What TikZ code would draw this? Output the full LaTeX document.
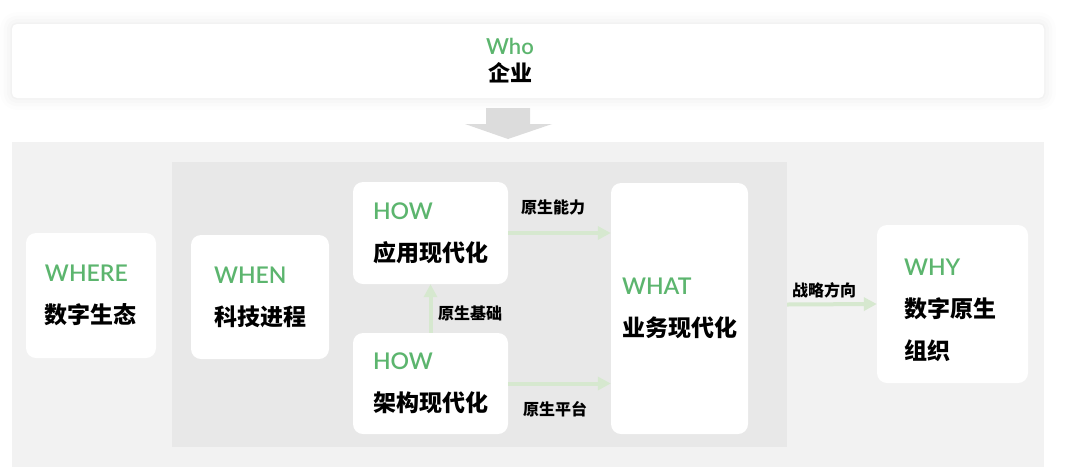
\documentclass[tikz,border=0pt]{standalone}
\usepackage{fontspec}
\setmainfont{Lato}
\newfontfamily\latinvert{Lato Semibold}
\newfontfamily\cjk{Noto Sans CJK SC}
\usetikzlibrary{arrows.meta,shadows.blur}
\definecolor{vert}{RGB}{92,181,110}
\definecolor{fond}{RGB}{242,242,242}
\definecolor{coeur}{RGB}{232,232,232}
\definecolor{liaison}{RGB}{214,232,207}
\definecolor{grosse}{RGB}{220,220,220}
\newcommand{\motvert}[1]{{\latinvert\color{vert}#1}}
\newcommand{\motzh}[1]{{\cjk\bfseries #1}}
\begin{document}
\begin{tikzpicture}  % ------ Entreprise et organisation numérique -------
      [x=1pt,y=-1pt,
       carte/.style={fill=white, rounded corners=10pt, align=left,
         font=\fontsize{23}{42}\selectfont},
       lien/.style={liaison, line width=4pt, -{Triangle[length=13pt,width=13pt]}},
       etiquette/.style={font=\cjk\bfseries\fontsize{16}{18}\selectfont}]

    \useasboundingbox (0,0) rectangle (1080,467);

    % bandeau du haut et grosse flèche
    \node[fill=white, rounded corners=5pt, minimum width=1032pt, minimum height=74pt,
      blur shadow={shadow xshift=0pt, shadow yshift=0pt, shadow blur radius=12pt, shadow opacity=10}]
      (entreprise) at (528,61) {};
    \node[align=center, font=\fontsize{22}{27}\selectfont] (who) at (510,61) {\motvert{Who}\\\motzh{企业}};
    \fill[grosse] (486,108) -- (530,108) -- (530,124) -- (552,124) -- (508,139) -- (465,124) -- (486,124) -- cycle;

    % fonds gris
    \fill[fond] (12,142) rectangle (1044,467);
    \node[fill=coeur, minimum width=615pt, minimum height=285pt] (coeur) at (479.5,304.5) {};

    % cartes
    \node[carte, minimum width=130pt, minimum height=125pt] (where) at (91,295.5) {\motvert{WHERE}\\\motzh{数字生态}};
    \node[carte, minimum width=138pt, minimum height=124pt] (when) at (260,297) {\motvert{WHEN}\\\motzh{科技进程}};
    \node[carte, minimum width=155pt, minimum height=102pt] (howA) at (430.5,233) {\motvert{HOW}\\\motzh{应用现代化}};
    \node[carte, minimum width=155pt, minimum height=101pt] (howB) at (430.5,383.5) {\motvert{HOW}\\\motzh{架构现代化}};
    \node[carte, minimum width=137pt, minimum height=251pt] (what) at (679.5,308.5) {\motvert{WHAT}\\\motzh{业务现代化}};
    \node[carte, minimum width=151pt, minimum height=158pt] (why) at (952.5,304) {};
    \node[align=left, font=\fontsize{23}{42}\selectfont] (whytxt) at (950,310) {\motvert{WHY}\\\motzh{数字原生}\\\motzh{组织}};

    % liaisons
    \draw[lien] (howA.east) -- (howA.east -| what.west);
    \draw[lien] (howB.east) -- (howB.east -| what.west);
    \draw[lien] (howB.north) -- (howA.south);
    \draw[lien] (coeur.east) -- (why.west);
    \node[etiquette] (capacite) at (553,207) {原生能力};
    \node[etiquette] (plateforme) at (555,409) {原生平台};
    \node[etiquette] (base) at (470,313) {原生基础};
    \node[etiquette] (strategie) at (824,290) {战略方向};
\end{tikzpicture}
\end{document}
